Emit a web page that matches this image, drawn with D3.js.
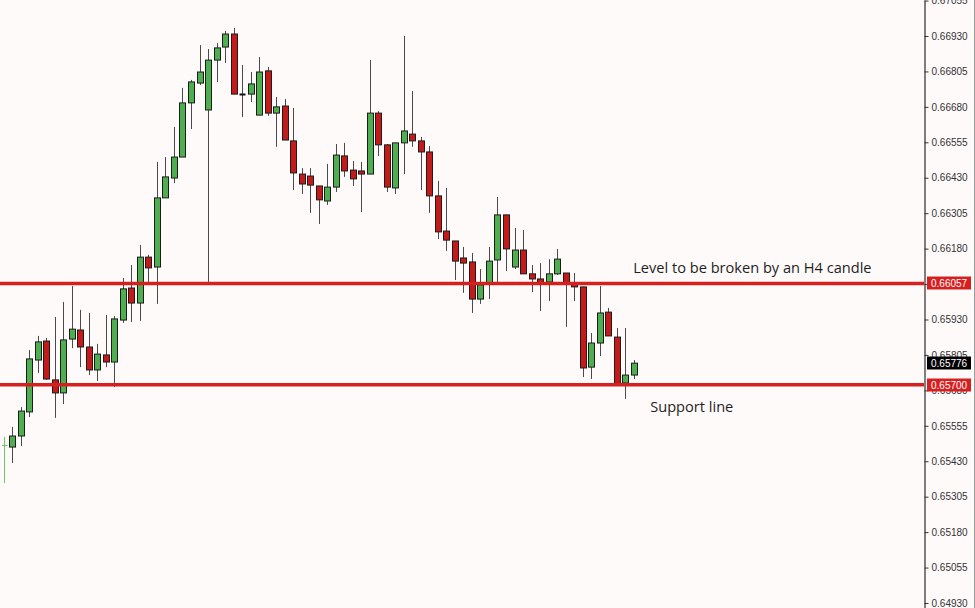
<!DOCTYPE html>
<html>
<head>
<meta charset="utf-8">
<script src="https://cdn.jsdelivr.net/npm/d3@7/dist/d3.min.js"></script>
<style>
  html, body { margin: 0; padding: 0; background: #fefafa; }
  svg { display: block; }
</style>
</head>
<body>
<svg id="chart" width="975" height="608"></svg>
<script>
// ---------------- DATA ----------------
const opens  = [0.65487,0.65480,0.65519,0.65604,0.65787,0.65854,0.65717,0.65671,0.65861,0.65893,
                0.65833,0.65752,0.65805,0.65780,0.65928,0.66041,0.65988,0.66150,0.66115,0.66359,
                0.66429,0.66503,0.66694,0.66764,0.66669,0.66845,0.66891,0.66937,0.66725,0.66725,
                0.66651,0.66807,0.66658,0.66683,0.66560,0.66443,0.66436,0.66401,0.66348,0.66397,
                0.66507,0.66457,0.66454,0.66443,0.66658,0.66546,0.66394,0.66553,0.66584,0.66560,
                0.66521,0.66366,0.66242,0.66207,0.66147,0.66133,0.66002,0.66055,0.66140,0.66299,
                0.66115,0.66175,0.66091,0.66073,0.66062,0.66091,0.66094,0.66059,0.66045,0.65762,
                0.65847,0.65956,0.65868,0.65706,0.65734];
const highs  = [0.65516,0.65551,0.65621,0.65822,0.65872,0.65865,0.65939,0.65992,0.66048,0.65964,
                0.65953,0.65844,0.65946,0.65942,0.66076,0.66122,0.66193,0.66158,0.66486,0.66503,
                0.66609,0.66747,0.66775,0.66898,0.66884,0.66905,0.66948,0.66958,0.66828,0.66803,
                0.66856,0.66821,0.66715,0.66708,0.66676,0.66464,0.66464,0.66401,0.66479,0.66549,
                0.66553,0.66489,0.66486,0.66845,0.66665,0.66549,0.66553,0.66930,0.66736,0.66574,
                0.66542,0.66419,0.66394,0.66207,0.66186,0.66165,0.66108,0.66186,0.66362,0.66299,
                0.66253,0.66246,0.66122,0.66129,0.66143,0.66179,0.66094,0.66094,0.66045,0.65882,
                0.66048,0.65971,0.65900,0.65900,0.65787];
const lows   = [0.65353,0.65424,0.65484,0.65586,0.65741,0.65717,0.65583,0.65632,0.65829,0.65762,
                0.65734,0.65713,0.65762,0.65692,0.65918,0.65921,0.65925,0.66062,0.65985,0.66359,
                0.66411,0.66503,0.66602,0.66757,0.66052,0.66768,0.66835,0.66725,0.66644,0.66697,
                0.66651,0.66648,0.66539,0.66563,0.66387,0.66373,0.66306,0.66267,0.66334,0.66380,
                0.66433,0.66401,0.66309,0.66443,0.66507,0.66380,0.66373,0.66443,0.66539,0.66387,
                0.66306,0.66214,0.66172,0.66069,0.66024,0.65953,0.65985,0.66002,0.66062,0.66101,
                0.66108,0.66091,0.66027,0.65960,0.65995,0.66087,0.65904,0.65995,0.65727,0.65720,
                0.65801,0.65872,0.65702,0.65650,0.65720];
const closes = [0.65487,0.65519,0.65607,0.65791,0.65851,0.65720,0.65671,0.65858,0.65896,0.65833,
                0.65752,0.65808,0.65780,0.65932,0.66038,0.65988,0.66150,0.66112,0.66359,0.66433,
                0.66503,0.66694,0.66768,0.66803,0.66845,0.66888,0.66937,0.66725,0.66725,0.66761,
                0.66803,0.66658,0.66680,0.66563,0.66447,0.66408,0.66404,0.66352,0.66397,0.66510,
                0.66454,0.66426,0.66443,0.66658,0.66546,0.66397,0.66553,0.66595,0.66560,0.66521,
                0.66366,0.66239,0.66210,0.66136,0.66129,0.66002,0.66052,0.66136,0.66299,0.66179,
                0.66175,0.66091,0.66073,0.66059,0.66091,0.66143,0.66059,0.66045,0.65759,0.65847,
                0.65953,0.65872,0.65702,0.65734,0.65776];

const priceTicks = [0.67055,0.66930,0.66805,0.66680,0.66555,0.66430,0.66305,0.66180,0.66055,
                    0.65930,0.65805,0.65680,0.65555,0.65430,0.65305,0.65180,0.65055,0.64930];
const levelPrices = [0.66057, 0.65700];
const lastPrice = 0.65776;
const annotationTexts = ["Level to be broken by an H4 candle", "Support line"];
const annotationPrices = [0.66093, 0.65602];
const annotationIndex = [74, 76];

// ---------------- LAYOUT ----------------
const W = 975, H = 608;
const axisX = 924;
const svg = d3.select("#chart");
svg.append("rect").attr("width", W).attr("height", H).attr("fill", "#fefafa");

const n = opens.length;
const x = d3.scaleLinear().domain([0, n - 1]).range([3.7, 633.7]);
const y = d3.scaleLinear().domain([0.6491236, 0.6705698]).range([H, 0]);

const bull = "#4fae4f", bear = "#c51a1a";
const data = d3.range(n).map(i => ({i, o: opens[i], h: highs[i], l: lows[i], c: closes[i]}));

// wicks
const g = svg.append("g");
g.selectAll("line.wick").data(data).join("line")
  .attr("class", "wick")
  .attr("x1", d => Math.round(x(d.i)) + 0.5)
  .attr("x2", d => Math.round(x(d.i)) + 0.5)
  .attr("y1", d => y(d.h))
  .attr("y2", d => y(d.l))
  .attr("stroke", d => d.i === 0 ? "#6cc86c" : "#4a4a4a")
  .attr("stroke-width", 1);

// bodies
g.selectAll("rect.body").data(data.filter(d => d.o !== d.c)).join("rect")
  .attr("class", "body")
  .attr("x", d => Math.round(x(d.i)) - 2.5)
  .attr("width", 6)
  .attr("y", d => y(Math.max(d.o, d.c)))
  .attr("height", d => Math.max(1, Math.abs(y(d.o) - y(d.c))))
  .attr("fill", d => d.c > d.o ? bull : bear)
  .attr("stroke", "#1c1c1c")
  .attr("stroke-width", 1);

// doji
g.selectAll("line.doji").data(data.filter(d => d.o === d.c)).join("line")
  .attr("class", "doji")
  .attr("x1", d => d.i === 0 ? Math.round(x(d.i)) - 2 : Math.round(x(d.i)) - 2.5)
  .attr("x2", d => Math.round(x(d.i)) + 3.5)
  .attr("y1", d => Math.round(y(d.o)) + 0.5)
  .attr("y2", d => Math.round(y(d.o)) + 0.5)
  .attr("stroke", d => d.i === 0 ? "#6cc86c" : "#111")
  .attr("stroke-width", d => d.i === 0 ? 1 : 2);

// level lines
svg.selectAll("line.level").data(levelPrices).join("line")
  .attr("class", "level")
  .attr("x1", 0).attr("x2", axisX)
  .attr("y1", d => y(d)).attr("y2", d => y(d))
  .attr("stroke", "#d6201f").attr("stroke-width", 3.5);

// axis
const axis = d3.axisRight(y)
  .tickValues(priceTicks)
  .tickSize(4)
  .tickSizeOuter(0)
  .tickPadding(3)
  .tickFormat(d3.format(".5f"));
const ag = svg.append("g").attr("transform", `translate(${axisX + 0.5},0)`).call(axis);
ag.select(".domain").attr("stroke", "#000");
ag.selectAll(".tick line").attr("stroke", "#333");
ag.selectAll(".tick text")
  .attr("font-family", "'Liberation Sans', Arial, sans-serif")
  .attr("font-size", 10)
  .attr("fill", "#333");

// price label boxes
const boxes = [
  {v: levelPrices[0], fill: "#d6201f"},
  {v: lastPrice, fill: "#000"},
  {v: levelPrices[1], fill: "#d6201f"}
];
const bg = svg.append("g");
bg.selectAll("rect").data(boxes).join("rect")
  .attr("x", axisX + 3).attr("width", 44)
  .attr("y", d => Math.round(y(d.v)) - 6.5).attr("height", 13)
  .attr("fill", d => d.fill);
bg.selectAll("text").data(boxes).join("text")
  .attr("x", axisX + 7).attr("y", d => y(d.v) + 0.5)
  .attr("dy", "0.35em")
  .attr("font-family", "'Liberation Sans', Arial, sans-serif")
  .attr("font-size", 10)
  .attr("fill", "#fff")
  .text(d => d3.format(".5f")(d.v));

// annotations
svg.selectAll("text.note").data(annotationTexts).join("text")
  .attr("class", "note")
  .attr("x", (d, i) => x(annotationIndex[i]) - 0.5)
  .attr("y", (d, i) => y(annotationPrices[i]))
  .attr("font-family", "'Open Sans', 'Noto Sans', sans-serif")
  .attr("font-size", 14.6)
  .attr("fill", "#1e1e1e")
  .text(d => d);

// right frame
svg.append("line").attr("x1", W - 0.5).attr("x2", W - 0.5).attr("y1", 0).attr("y2", H)
  .attr("stroke", "#9a9a9a");
</script>
</body>
</html>
